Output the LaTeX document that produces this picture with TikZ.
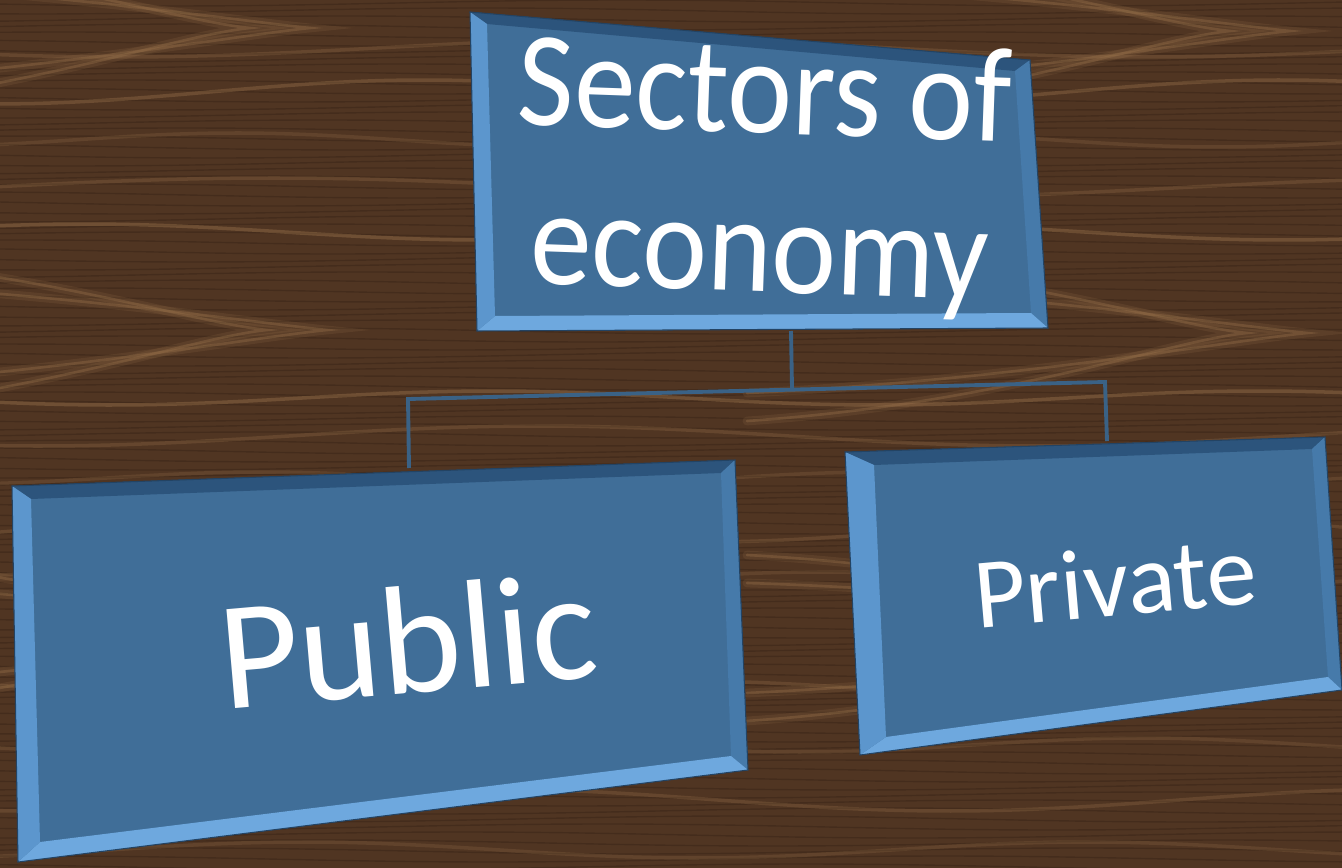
\documentclass[tikz,border=0pt]{standalone}
\usepackage{fontspec}
\setmainfont{Carlito}
\usetikzlibrary{positioning}

\definecolor{wood}{RGB}{80,53,34}
\definecolor{wooddark}{RGB}{48,30,18}
\definecolor{woodlight}{RGB}{150,112,74}
\definecolor{face}{RGB}{64,110,152}
\definecolor{bevtop}{RGB}{44,84,124}
\definecolor{bevright}{RGB}{70,122,170}
\definecolor{bevbottom}{RGB}{110,168,222}
\definecolor{bevleft}{RGB}{92,150,205}
\definecolor{link}{RGB}{58,98,134}

% bevelled plaque from the coordinates <name>-o1..o4 (outer) and <name>-i1..i4 (inner)
\newcommand{\plaque}[1]{%
  \fill[face] (#1-o1) -- (#1-o2) -- (#1-o3) -- (#1-o4) -- cycle;
  \fill[bevtop] (#1-o1) -- (#1-o2) -- (#1-i2) -- (#1-i1) -- cycle;
  \fill[bevright] (#1-o2) -- (#1-o3) -- (#1-i3) -- (#1-i2) -- cycle;
  \fill[bevbottom] (#1-o3) -- (#1-o4) -- (#1-i4) -- (#1-i3) -- cycle;
  \fill[bevleft] (#1-o4) -- (#1-o1) -- (#1-i1) -- (#1-i4) -- cycle;
  \draw[bevtop!80!black, line width=0.6pt] (#1-o1) -- (#1-o2) -- (#1-o3) -- (#1-o4) -- cycle;
}

\begin{document}
\begin{tikzpicture}[x=0.02cm, y=-0.02cm,
    fibre/.style={wooddark, line width=0.8pt, opacity=0.35},
    grain/.style={woodlight, line cap=round},
    streak/.style={woodlight, line cap=round, line width=5pt, opacity=0.18},
    streakcore/.style={woodlight, line cap=round, line width=1.5pt, opacity=0.38},
    label/.style={text=white, inner sep=0pt, align=center},
    connector/.style={link, line width=2.2pt}]
  \useasboundingbox (0,0) rectangle (1342,868);
  \clip (0,0) rectangle (1342,868);
  \fill[wood] (0,0) rectangle (1342,868);

  % wood: fine fibres, long grain lines and the knots
  \foreach \y in {3,11,...,868}
    \draw[fibre] plot[smooth, domain=0:1342, samples=25] (\x, {\y + 3*sin(0.4*\x + 7*\y)});
  \foreach \y/\a/\f/\o in {48/9/0.35/0.30, 92/12/0.42/0.40, 140/7/0.55/0.25,
      188/10/0.30/0.30, 232/8/0.45/0.45, 398/7/0.47/0.45, 436/10/0.36/0.30,
      478/6/0.58/0.25, 530/12/0.40/0.30, 580/8/0.50/0.25, 690/9/0.44/0.30,
      745/7/0.53/0.25, 800/11/0.39/0.30, 850/8/0.46/0.25}
    \draw[grain, opacity=\o, line width=2pt]
      plot[smooth, domain=0:1342, samples=40] (\x, {\y + \a*sin(\f*\x + \y)});
  \foreach \kx/\ky in {327/330, 1307/333, 310/28, 1290/31, 327/630, 1307/633}
    \foreach \k in {0,1}
      \foreach \s in {streak, streakcore}
        \draw[\s] (\kx-560, \ky-50-\k*28) .. controls (\kx-300, \ky-42-\k*22)
          and (\kx-\k*60-80, \ky-8) .. (\kx-\k*60, \ky)
          .. controls (\kx-\k*60-80, \ky+8) and (\kx-300, \ky+48+\k*22)
          .. (\kx-560, \ky+60+\k*28);

  % corner points of the three plaques
  \coordinate (top-o1) at (470,12);   \coordinate (top-o2) at (1030,60);
  \coordinate (top-o3) at (1048,328); \coordinate (top-o4) at (477,331);
  \coordinate (top-i1) at (487,24);   \coordinate (top-i2) at (1015,71);
  \coordinate (top-i3) at (1031,313); \coordinate (top-i4) at (495,316);

  \coordinate (pub-o1) at (12,486);   \coordinate (pub-o2) at (735,460);
  \coordinate (pub-o3) at (748,770);  \coordinate (pub-o4) at (18,862);
  \coordinate (pub-i1) at (31,499);   \coordinate (pub-i2) at (721,473);
  \coordinate (pub-i3) at (731,756);  \coordinate (pub-i4) at (40,842);

  \coordinate (pri-o1) at (845,452);  \coordinate (pri-o2) at (1325,437);
  \coordinate (pri-o3) at (1342,690); \coordinate (pri-o4) at (860,755);
  \coordinate (pri-i1) at (874,465);  \coordinate (pri-i2) at (1312,449);
  \coordinate (pri-i3) at (1328,677); \coordinate (pri-i4) at (886,737);

  % connectors
  \coordinate (top-b) at (791,331);
  \coordinate (hub) at (792,388);
  \coordinate (bar-l) at (408,399);
  \coordinate (bar-r) at (1105,382);
  \coordinate (pub-t) at (409,468);
  \coordinate (pri-t) at (1107,441);
  \draw[connector] (top-b) -- (hub);
  \draw[connector] (pub-t) -- (bar-l) -- (bar-r) -- (pri-t);

  \plaque{top}
  \plaque{pub}
  \plaque{pri}

  % labels
  \node[label, font=\fontsize{70}{82}\selectfont, rotate=-2, yscale=1.1] (sectors) at (762,177)
    {Sectors of\\economy};
  \node[label, font=\fontsize{88}{88}\selectfont, rotate=5] (public) at (408,640) {Public};
  \node[label, font=\fontsize{57}{57}\selectfont, rotate=5] (private) at (1115,582) {Private};
\end{tikzpicture}
\end{document}
